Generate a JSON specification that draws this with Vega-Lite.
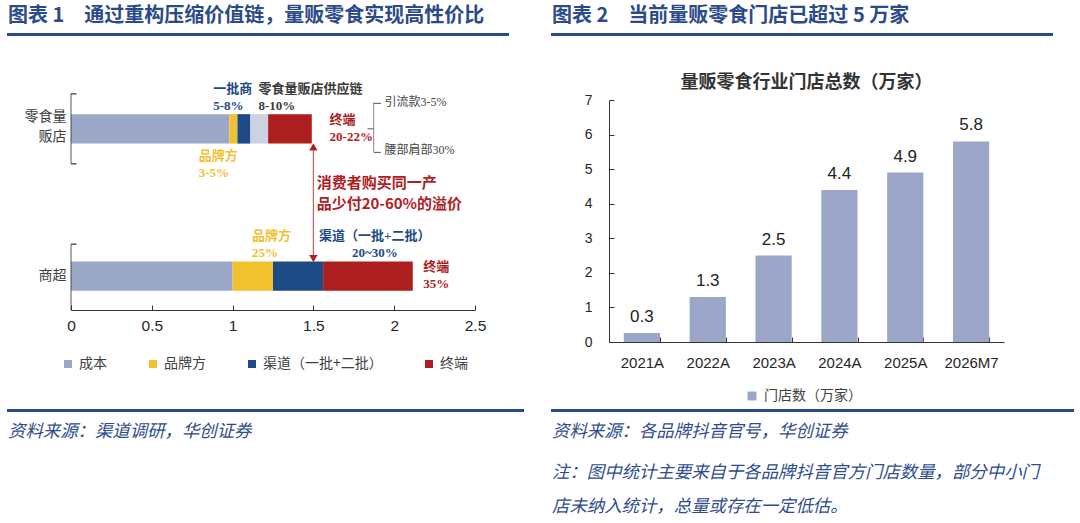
{
  "$schema": "https://vega.github.io/schema/vega-lite/v6.json",
  "background": "white",
  "padding": {"left": 7, "top": 5, "right": 0, "bottom": 0},
  "config": {
    "font": "Noto Sans CJK SC",
    "view": {"stroke": null},
    "axis": {"grid": false, "domainColor": "#333333", "tickColor": "#333333", "labelColor": "#262626", "labelFont": "Liberation Sans, Noto Sans CJK SC"},
    "legend": {"labelFont": "Noto Sans CJK SC", "labelColor": "#404040", "symbolType": "square", "title": null},
    "text": {"font": "Liberation Serif, Noto Sans CJK SC"}
  },
  "datasets": {
    "valueChain": [
      {"channel": "零食量贩店", "part": "成本", "seq": 1, "share": 0.98},
      {"channel": "零食量贩店", "part": "品牌方", "seq": 2, "share": 0.05},
      {"channel": "零食量贩店", "part": "渠道（一批+二批）", "seq": 3, "share": 0.08},
      {"channel": "零食量贩店", "part": "零食量贩店供应链", "seq": 4, "share": 0.11},
      {"channel": "零食量贩店", "part": "终端", "seq": 5, "share": 0.27},
      {"channel": "商超", "part": "成本", "seq": 1, "share": 1.0},
      {"channel": "商超", "part": "品牌方", "seq": 2, "share": 0.25},
      {"channel": "商超", "part": "渠道（一批+二批）", "seq": 3, "share": 0.31},
      {"channel": "商超", "part": "终端", "seq": 5, "share": 0.555}
    ],
    "chainNotes": [
      {"channel": "零食量贩店", "x": 0.88, "label": "一批商\n5-8%", "part": "渠道（一批+二批）", "role": "above"},
      {"channel": "商超", "x": 1.12, "label": "品牌方\n25%", "part": "品牌方", "role": "above"},
      {"channel": "零食量贩店", "x": 1.16, "label": "零食量贩店供应链\n8-10%", "part": "零食量贩店供应链", "role": "above-plain"},
      {"channel": "商超", "x": 1.88, "label": "渠道（一批+二批）\n20~30%", "part": "渠道（一批+二批）", "role": "above-center"},
      {"channel": "零食量贩店", "x": 0.79, "label": "品牌方\n3-5%", "part": "品牌方", "role": "below"},
      {"channel": "零食量贩店", "x": 1.6, "label": "终端\n20-22%", "part": "终端", "role": "side"},
      {"channel": "商超", "x": 2.18, "label": "终端\n35%", "part": "终端", "role": "side"},
      {"channel": "零食量贩店", "x": 1.94, "label": "引流款3-5%", "part": "终端", "role": "split-top"},
      {"channel": "零食量贩店", "x": 1.94, "label": "腰部肩部30%", "part": "终端", "role": "split-bottom"},
      {"channel": "零食量贩店", "x": 1.52, "label": "消费者购买同一产\n品少付20-60%的溢价", "part": "终端", "role": "message"}
    ],
    "stores": [
      {"period": "2021A", "stores": 0.26},
      {"period": "2022A", "stores": 1.3},
      {"period": "2023A", "stores": 2.5},
      {"period": "2024A", "stores": 4.4},
      {"period": "2025A", "stores": 4.9},
      {"period": "2026M7", "stores": 5.8}
    ]
  },
  "spacing": 27,
  "resolve": {"scale": {"color": "independent"}, "legend": {"color": "independent"}},
  "hconcat": [
    {
      "spacing": 46,
      "resolve": {"scale": {"color": "independent"}, "legend": {"color": "independent"}},
      "vconcat": [
        {
          "width": 500,
          "height": 1,
          "view": {"stroke": "#2B4A8A", "strokeWidth": 2},
          "title": {"text": "图表 1　通过重构压缩价值链，量贩零食实现高性价比", "anchor": "start", "fontSize": 20, "fontWeight": "bold", "color": "#2B4A8A", "offset": 8},
          "data": {"values": []},
          "mark": "point"
        },
        {
          "spacing": 38,
          "resolve": {"scale": {"color": "independent"}, "legend": {"color": "independent"}},
          "vconcat": [
            {
              "bounds": "flush",
              "spacing": 0,
              "resolve": {"scale": {"color": "independent"}, "legend": {"color": "independent"}},
              "hconcat": [
                {"width": 62.5, "height": 1, "data": {"values": []}, "mark": "point"},
                {
                  "width": 404,
                  "height": 215,
                  "encoding": {
                    "y": {
                      "field": "channel", "type": "nominal", "title": null,
                      "scale": {"domain": ["零食量贩店", "商超"], "paddingInner": 0.8, "paddingOuter": 0.13},
                      "axis": {
                        "domain": false, "ticks": false, "labelFontSize": 14, "labelPadding": 5, "labelColor": "#404040", "labelLineHeight": 20, "labelFont": "Noto Sans CJK SC",
                        "labelOffset": {"condition": {"test": "datum.value == '零食量贩店'", "value": -12}, "value": 0},
                        "labelExpr": "datum.value == '零食量贩店' ? ['零食量', '贩店'] : datum.value"
                      }
                    }
                  },
                  "layer": [
                    {
                      "data": {"name": "valueChain"},
                      "mark": {"type": "bar"},
                      "encoding": {
                        "x": {
                          "field": "share", "type": "quantitative", "stack": "zero", "title": null,
                          "scale": {"domain": [0, 2.5], "nice": false},
                          "axis": {"values": [0, 0.5, 1, 1.5, 2, 2.5], "format": "~g", "tickSize": -5, "labelFontSize": 15.5, "labelPadding": 13, "labelFlush": false}
                        },
                        "color": {
                          "field": "part", "type": "nominal",
                          "scale": {"domain": ["成本", "品牌方", "渠道（一批+二批）", "零食量贩店供应链", "终端"], "range": ["#9CA8C8", "#F2C12E", "#1E4A86", "#CDD2E3", "#AD1E1E"]},
                          "legend": {"values": ["成本", "品牌方", "渠道（一批+二批）", "终端"], "orient": "none", "legendX": -10, "legendY": 262, "direction": "horizontal", "columns": 4, "columnPadding": 39, "symbolSize": 64, "labelFontSize": 14, "labelOffset": 4}
                        },
                        "order": {"field": "seq"}
                      }
                    },
                    {
                      "data": {"values": [{}]},
                      "mark": {"type": "tick", "color": "#333333", "thickness": 1.2, "size": 70, "yOffset": 0},
                      "encoding": {"x": {"datum": 0}, "y": {"datum": "零食量贩店"}}
                    },
                    {
                      "data": {"values": [{}]},
                      "mark": {"type": "tick", "color": "#333333", "thickness": 1.2, "size": 66, "yOffset": 1},
                      "encoding": {"x": {"datum": 0}, "y": {"datum": "商超"}}
                    },
                    {
                      "data": {"values": [{}]},
                      "mark": {"type": "rule", "color": "#333333", "strokeWidth": 1.2, "yOffset": -35},
                      "encoding": {"x": {"datum": 0}, "x2": {"datum": 0.034}, "y": {"datum": "零食量贩店"}}
                    },
                    {
                      "data": {"values": [{}]},
                      "mark": {"type": "rule", "color": "#333333", "strokeWidth": 1.2, "yOffset": 35},
                      "encoding": {"x": {"datum": 0}, "x2": {"datum": 0.034}, "y": {"datum": "零食量贩店"}}
                    },
                    {
                      "data": {"values": [{}]},
                      "mark": {"type": "rule", "color": "#333333", "strokeWidth": 1.2, "yOffset": -32},
                      "encoding": {"x": {"datum": 0}, "x2": {"datum": 0.034}, "y": {"datum": "商超"}}
                    },
                    {
                      "data": {"name": "chainNotes"},
                      "transform": [{"filter": "datum.role == 'above'"}],
                      "mark": {"type": "text", "align": "left", "baseline": "bottom", "dy": -33, "lineBreak": "\n", "lineHeight": 17, "fontSize": 13, "fontWeight": "bold"},
                      "encoding": {"x": {"field": "x", "type": "quantitative", "title": null}, "text": {"field": "label"}, "color": {"field": "part", "type": "nominal"}}
                    },
                    {
                      "data": {"name": "chainNotes"},
                      "transform": [{"filter": "datum.role == 'above-plain'"}],
                      "mark": {"type": "text", "align": "left", "baseline": "bottom", "dy": -33, "lineBreak": "\n", "lineHeight": 17, "fontSize": 13, "fontWeight": "bold", "color": "#3A3A3A"},
                      "encoding": {"x": {"field": "x", "type": "quantitative", "title": null}, "text": {"field": "label"}}
                    },
                    {
                      "data": {"name": "chainNotes"},
                      "transform": [{"filter": "datum.role == 'above-center'"}],
                      "mark": {"type": "text", "align": "center", "baseline": "bottom", "dy": -33, "lineBreak": "\n", "lineHeight": 17, "fontSize": 13, "fontWeight": "bold"},
                      "encoding": {"x": {"field": "x", "type": "quantitative", "title": null}, "text": {"field": "label"}, "color": {"field": "part", "type": "nominal"}}
                    },
                    {
                      "data": {"name": "chainNotes"},
                      "transform": [{"filter": "datum.role == 'below'"}],
                      "mark": {"type": "text", "align": "left", "baseline": "top", "dy": 21, "lineBreak": "\n", "lineHeight": 17, "fontSize": 13, "fontWeight": "bold"},
                      "encoding": {"x": {"field": "x", "type": "quantitative", "title": null}, "text": {"field": "label"}, "color": {"field": "part", "type": "nominal"}}
                    },
                    {
                      "data": {"name": "chainNotes"},
                      "transform": [{"filter": "datum.role == 'side'"}],
                      "mark": {"type": "text", "align": "left", "baseline": "middle", "dy": -9, "lineBreak": "\n", "lineHeight": 17, "fontSize": 13, "fontWeight": "bold"},
                      "encoding": {"x": {"field": "x", "type": "quantitative", "title": null}, "text": {"field": "label"}, "color": {"field": "part", "type": "nominal"}}
                    },
                    {
                      "data": {"name": "chainNotes"},
                      "transform": [{"filter": "datum.role == 'split-top'"}],
                      "mark": {"type": "text", "align": "left", "baseline": "middle", "dy": -27, "fontSize": 12, "color": "#444444"},
                      "encoding": {"x": {"field": "x", "type": "quantitative", "title": null}, "text": {"field": "label"}}
                    },
                    {
                      "data": {"name": "chainNotes"},
                      "transform": [{"filter": "datum.role == 'split-bottom'"}],
                      "mark": {"type": "text", "align": "left", "baseline": "middle", "dy": 21, "fontSize": 12, "color": "#444444"},
                      "encoding": {"x": {"field": "x", "type": "quantitative", "title": null}, "text": {"field": "label"}}
                    },
                    {
                      "data": {"name": "chainNotes"},
                      "transform": [{"filter": "datum.role == 'message'"}],
                      "mark": {"type": "text", "align": "left", "baseline": "middle", "dy": 54, "lineBreak": "\n", "lineHeight": 21, "fontSize": 15, "fontWeight": "bold", "font": "Noto Sans CJK SC", "color": "#B0201F"},
                      "encoding": {"x": {"field": "x", "type": "quantitative", "title": null}, "text": {"field": "label"}}
                    },
                    {
                      "data": {"values": [{}]},
                      "mark": {"type": "tick", "color": "#B0201F", "thickness": 1.2, "size": 108, "yOffset": 75.5},
                      "encoding": {"x": {"datum": 1.5}, "y": {"datum": "零食量贩店"}}
                    },
                    {
                      "data": {"values": [{}]},
                      "mark": {"type": "point", "shape": "triangle-up", "filled": true, "size": 70, "opacity": 1, "color": "#B0201F", "yOffset": 18},
                      "encoding": {"x": {"datum": 1.5}, "y": {"datum": "零食量贩店"}}
                    },
                    {
                      "data": {"values": [{}]},
                      "mark": {"type": "point", "shape": "triangle-down", "filled": true, "size": 70, "opacity": 1, "color": "#B0201F", "yOffset": -17.5},
                      "encoding": {"x": {"datum": 1.5}, "y": {"datum": "商超"}}
                    },
                    {
                      "data": {"values": [{}]},
                      "mark": {"type": "tick", "color": "#555555", "thickness": 1, "size": 49, "yOffset": -1.5},
                      "encoding": {"x": {"datum": 1.873}, "y": {"datum": "零食量贩店"}}
                    },
                    {
                      "data": {"values": [{}]},
                      "mark": {"type": "rule", "color": "#555555", "strokeWidth": 1, "yOffset": -25.5},
                      "encoding": {"x": {"datum": 1.873}, "x2": {"datum": 1.918}, "y": {"datum": "零食量贩店"}}
                    },
                    {
                      "data": {"values": [{}]},
                      "mark": {"type": "rule", "color": "#555555", "strokeWidth": 1, "yOffset": 23.5},
                      "encoding": {"x": {"datum": 1.873}, "x2": {"datum": 1.918}, "y": {"datum": "零食量贩店"}}
                    },
                    {
                      "data": {"values": [{}]},
                      "mark": {"type": "rule", "color": "#555555", "strokeWidth": 1, "yOffset": 0},
                      "encoding": {"x": {"datum": 1.835}, "x2": {"datum": 1.873}, "y": {"datum": "零食量贩店"}}
                    }
                  ]
                }
              ]
            },
            {
              "width": 515,
              "height": 1,
              "view": {"stroke": "#2B4A8A", "strokeWidth": 2},
              "title": {"text": "资料来源：渠道调研，华创证券", "orient": "bottom", "anchor": "start", "fontSize": 17.4, "fontStyle": "italic", "fontWeight": "normal", "color": "#2E4C8E", "offset": 12},
              "data": {"values": []},
              "mark": "point"
            }
          ]
        }
      ]
    },
    {
      "spacing": 37,
      "resolve": {"scale": {"color": "independent"}, "legend": {"color": "independent"}},
      "vconcat": [
        {
          "width": 500,
          "height": 1,
          "view": {"stroke": "#2B4A8A", "strokeWidth": 2},
          "title": {"text": "图表 2　当前量贩零食门店已超过 5 万家", "anchor": "start", "fontSize": 20, "fontWeight": "bold", "color": "#2B4A8A", "offset": 8},
          "data": {"values": []},
          "mark": "point"
        },
        {
          "spacing": 6,
          "resolve": {"scale": {"color": "independent"}, "legend": {"color": "independent"}},
          "vconcat": [
            {
              "bounds": "flush",
              "spacing": 0,
              "resolve": {"scale": {"color": "independent"}, "legend": {"color": "independent"}},
              "hconcat": [
                {"width": 56.5, "height": 1, "data": {"values": []}, "mark": "point"},
                {
                  "width": 395,
                  "height": 242,
                  "title": {"text": "量贩零食行业门店总数（万家）", "anchor": "middle", "fontSize": 18, "fontWeight": "bold", "color": "#333333", "offset": 1.5},
                  "data": {"name": "stores"},
                  "encoding": {
                    "x": {
                      "field": "period", "type": "ordinal", "sort": null, "title": null,
                      "scale": {"paddingInner": 0.45, "paddingOuter": 0.225},
                      "axis": {"labelAngle": 0, "tickBand": "extent", "tickSize": -5, "labelFontSize": 15, "labelPadding": 18}
                    },
                    "y": {
                      "field": "stores", "type": "quantitative", "title": null,
                      "scale": {"domain": [0, 7], "nice": false},
                      "axis": {"values": [0, 1, 2, 3, 4, 5, 6, 7], "tickSize": -5, "labelFontSize": 14, "labelPadding": 22}
                    }
                  },
                  "layer": [
                    {
                      "mark": {"type": "bar", "color": "#9BA6C8"},
                      "encoding": {
                        "color": {
                          "datum": "门店数（万家）", "type": "nominal",
                          "scale": {"range": ["#9BA6C8"]},
                          "legend": {"orient": "none", "legendX": 136, "legendY": 289, "symbolSize": 80, "labelFontSize": 14, "labelOffset": 5}
                        }
                      }
                    },
                    {
                      "mark": {"type": "text", "baseline": "middle", "dy": -16, "fontSize": 17, "font": "Liberation Sans", "color": "#222222"},
                      "encoding": {"text": {"field": "stores", "type": "quantitative", "format": ".1f"}}
                    }
                  ]
                }
              ]
            },
            {
              "width": 521,
              "height": 1,
              "view": {"stroke": "#2B4A8A", "strokeWidth": 2},
              "title": {
                "text": "资料来源：各品牌抖音官号，华创证券",
                "subtitle": ["注：图中统计主要来自于各品牌抖音官方门店数量，部分中小门", "店未纳入统计，总量或存在一定低估。"],
                "orient": "bottom", "anchor": "start", "fontSize": 17.4, "fontStyle": "italic", "fontWeight": "normal", "color": "#2E4C8E", "offset": 12,
                "subtitleFontSize": 17.4, "subtitleFontStyle": "italic", "subtitleColor": "#2E4C8E", "subtitlePadding": 24, "subtitleLineHeight": 34
              },
              "data": {"values": []},
              "mark": "point"
            }
          ]
        }
      ]
    }
  ]
}
